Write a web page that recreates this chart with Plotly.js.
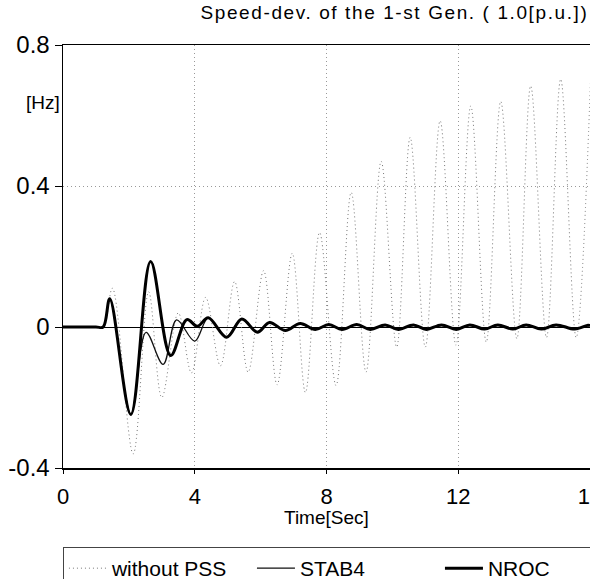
<!DOCTYPE html>
<html><head><meta charset="utf-8">
<script src="https://cdn.plot.ly/plotly-3.0.1.min.js"></script>
<style>html,body{margin:0;padding:0;background:#fff}#chart{width:590px;height:579px}
.gtitle{letter-spacing:1.6px}</style>
</head><body><div id="chart"></div>
<script>
// Series data (extrema of each curve)
const timeNoPss = [0, 1.0, 1.22, 1.5, 2.13, 2.6, 3.0, 3.5, 3.9, 4.33, 4.78, 5.21, 5.62, 6.09, 6.5, 6.96, 7.36, 7.79, 8.29, 8.75, 9.2, 9.66, 10.13, 10.54, 11.0, 11.45, 11.93, 12.38, 12.85, 13.29, 13.78, 14.2, 14.68, 15.11, 15.58, 16.02];
const valNoPss  = [0, 0, 0, 0.11, -0.36, 0.1, -0.2, 0.04, -0.13, 0.084, -0.11, 0.129, -0.128, 0.16, -0.164, 0.209, -0.186, 0.268, -0.166, 0.382, -0.128, 0.47, -0.057, 0.538, -0.057, 0.585, -0.052, 0.627, -0.043, 0.64, -0.033, 0.684, -0.03, 0.703, -0.03, 0.71];

const timeStab4 = [0, 1.0, 1.22, 1.42, 2.06, 2.52, 3.04, 3.45, 4.0, 4.41, 4.95, 5.42, 5.88, 6.27, 6.74, 7.18, 7.64, 8.05, 8.47, 8.92, 9.33, 9.78, 10.18, 10.64, 11.03, 11.49, 11.94, 12.35, 12.8, 13.2, 13.66, 14.06, 14.52, 14.97, 15.54, 15.94, 16];
const valStab4  = [0, 0, 0, 0.08, -0.248, -0.015, -0.106, 0.02, -0.04, 0.026, -0.028, 0.022, -0.013, 0.011, -0.009, 0.009, -0.006, 0.006, -0.006, 0.006, -0.006, 0.005, -0.006, 0.005, -0.006, 0.005, -0.006, 0.005, -0.005, 0.005, -0.005, 0.005, -0.005, 0.005, -0.005, 0.004, 0.003];

const timeNroc = [0, 1.0, 1.22, 1.42, 2.06, 2.66, 3.27, 3.76, 4.08, 4.41, 4.97, 5.43, 5.9, 6.27, 6.75, 7.2, 7.66, 8.07, 8.47, 8.92, 9.33, 9.78, 10.18, 10.64, 11.03, 11.49, 11.94, 12.35, 12.8, 13.2, 13.66, 14.06, 14.52, 14.97, 15.54, 15.94, 16];
const valNroc  = [0, 0, 0, 0.08, -0.248, 0.186, -0.081, 0.021, 0.002, 0.026, -0.029, 0.023, -0.015, 0.013, -0.01, 0.01, -0.007, 0.007, -0.007, 0.007, -0.007, 0.006, -0.007, 0.006, -0.007, 0.006, -0.007, 0.006, -0.006, 0.006, -0.006, 0.006, -0.006, 0.006, -0.006, 0.005, 0.004];

const xTickVals = [0, 4, 8, 12, 16];
const xTickText = ['0', '4', '8', '12', '16'];
const yTickVals = [-0.4, 0, 0.4, 0.8];
const yTickText = ['-0.4', '0', '0.4', '0.8'];

const FONT = 'Liberation Sans, Arial, Helvetica, sans-serif';

const traces = [
  {x: timeNoPss, y: valNoPss, name: 'without PSS', mode: 'lines',
   line: {color: '#777', width: 1, dash: '1px,3px', shape: 'spline', smoothing: 1}},
  {x: timeStab4, y: valStab4, name: 'STAB4', mode: 'lines',
   line: {color: '#111', width: 1.3, shape: 'spline', smoothing: 1}},
  {x: timeNroc, y: valNroc, name: 'NROC', mode: 'lines',
   line: {color: '#000', width: 3, shape: 'spline', smoothing: 1}}
];

const layout = {
  width: 590, height: 579,
  margin: {l: 63, r: 0, t: 45, b: 111, autoexpand: false},
  paper_bgcolor: '#fff', plot_bgcolor: '#fff',
  font: {family: FONT, color: '#000'},
  title: {text: 'Speed-dev. of the 1-st Gen. ( 1.0[p.u.])', font: {size: 19, family: FONT, color: '#000'},
          x: 0.997, xref: 'paper', xanchor: 'right', y: 0.99, yanchor: 'top'},
  xaxis: {range: [0, 16], tickvals: xTickVals, ticktext: xTickText,
          showline: true, linecolor: '#000', linewidth: 1.5, mirror: true,
          ticks: 'outside', ticklen: 4, tickcolor: '#000', tickwidth: 1,
          showgrid: true, gridcolor: '#999', griddash: '1px,3px', gridwidth: 1,
          zeroline: false, tickfont: {size: 22, family: FONT}, ticklabelstandoff: 4,
          ticklabeloverflow: 'allow', fixedrange: true},
  yaxis: {range: [-0.4, 0.8], tickvals: yTickVals, ticktext: yTickText,
          showline: true, linecolor: '#000', linewidth: 1.5, mirror: true,
          ticks: 'outside', ticklen: 7, tickcolor: '#000', tickwidth: 1,
          showgrid: true, gridcolor: '#999', griddash: '1px,3px', gridwidth: 1,
          zeroline: true, zerolinecolor: '#000', zerolinewidth: 1,
          tickfont: {size: 24, family: FONT}, ticklabelstandoff: 0, fixedrange: true},
  showlegend: true,
  legend: {orientation: 'h', xref: 'paper', x: -0.0001, xanchor: 'left', y: -0.1868, yanchor: 'top',
           bordercolor: '#444', borderwidth: 1, font: {size: 21, family: FONT},
           entrywidth: 135, entrywidthmode: 'pixels', itemwidth: 38},
  annotations: [
    {text: 'Time[Sec]', xref: 'paper', yref: 'paper', x: 0.5, y: -0.118, xanchor: 'center', yanchor: 'middle',
     showarrow: false, font: {size: 19, family: FONT}},
    {text: '[Hz]', xref: 'paper', yref: 'y', x: 0, y: 0.636, xanchor: 'right', yanchor: 'middle', xshift: -1,
     showarrow: false, font: {size: 19, family: FONT}}
  ]
};

Plotly.newPlot('chart', traces, layout, {displayModeBar: false, staticPlot: true});
</script></body></html>
